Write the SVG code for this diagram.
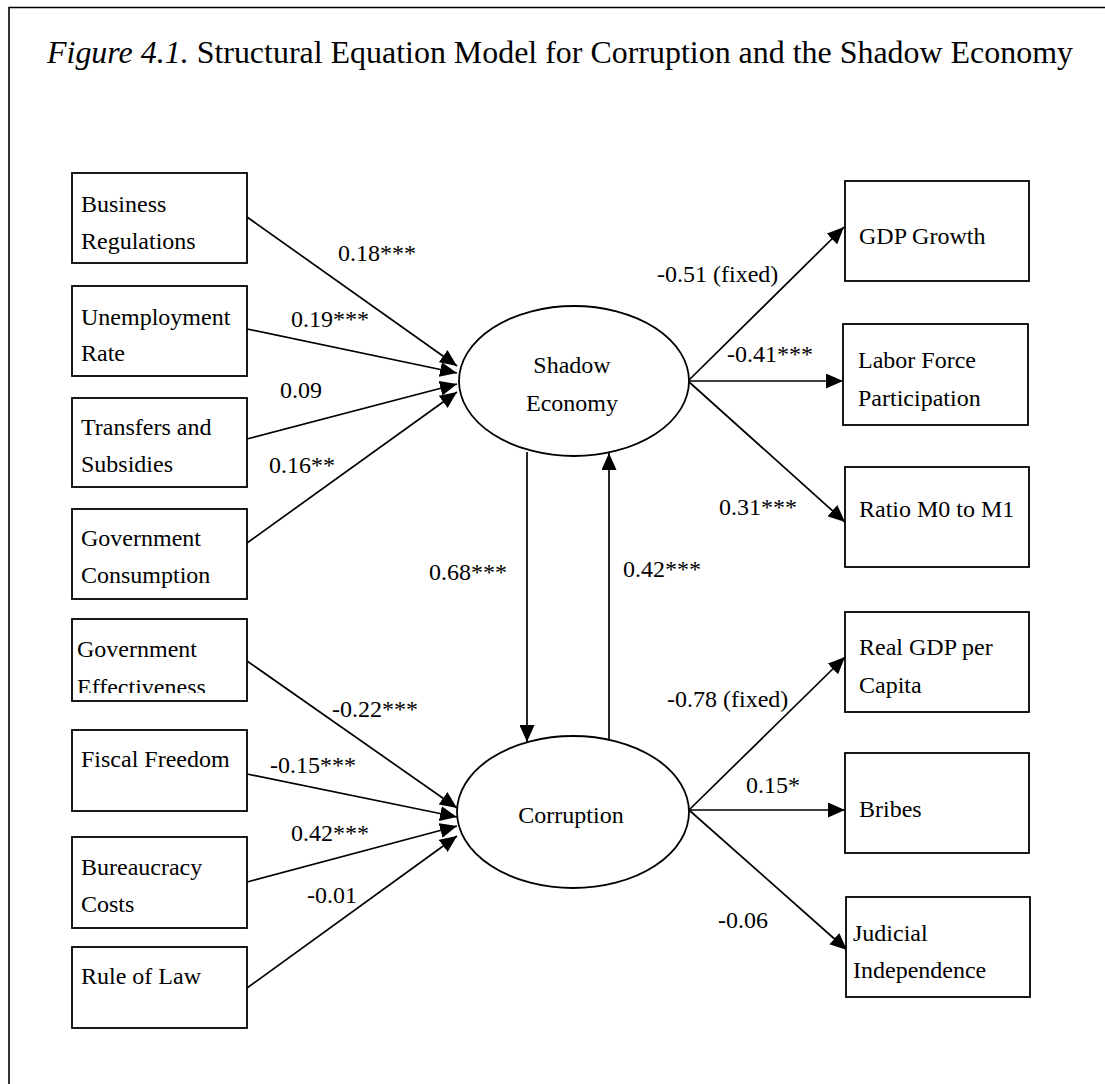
<svg xmlns="http://www.w3.org/2000/svg" width="1105" height="1084" viewBox="0 0 1105 1084">
<style>
text { font-family: "Liberation Serif", "Times New Roman", serif; font-size: 24px; fill: #000; }
.title { font-size: 31px; }
.box { fill: #fff; stroke: #000; stroke-width: 1.8; }
.ell { fill: #fff; stroke: #000; stroke-width: 1.8; }
.edge { fill: none; stroke: #000; stroke-width: 1.7; marker-end: url(#arr); }
.frame { fill: none; stroke: #000; stroke-width: 1.6; }
.mid { text-anchor: middle; }
</style>
<defs>
<marker id="arr" markerUnits="userSpaceOnUse" markerWidth="17" markerHeight="15" refX="17" refY="7.5" orient="auto">
<path d="M0,0 L17,7.5 L0,15 Z" fill="#000"/>
</marker>
<clipPath id="clipEff"><rect x="72" y="619" width="175" height="74"/></clipPath>
</defs>
<rect x="0" y="0" width="1105" height="1084" fill="#fff"/>
<path class="frame" d="M9,1084 L9,7.5 L1105,7.5"/>
<text class="title" x="47" y="63" textLength="1026" lengthAdjust="spacingAndGlyphs"><tspan font-style="italic">Figure 4.1.</tspan> Structural Equation Model for Corruption and the Shadow Economy</text>

<g id="connectors">
<line class="edge" x1="247" y1="217" x2="457" y2="366"/>
<line class="edge" x1="247" y1="329" x2="457" y2="373"/>
<line class="edge" x1="247" y1="439" x2="457" y2="384"/>
<line class="edge" x1="247" y1="543" x2="457" y2="392"/>
<line class="edge" x1="247" y1="661" x2="457" y2="808"/>
<line class="edge" x1="247" y1="774" x2="457" y2="817"/>
<line class="edge" x1="247" y1="882" x2="457" y2="826"/>
<line class="edge" x1="247" y1="988" x2="457" y2="836"/>
<line class="edge" x1="527" y1="452" x2="527" y2="742"/>
<line class="edge" x1="609" y1="739" x2="609" y2="453"/>
<line class="edge" x1="688" y1="381" x2="844" y2="227"/>
<line class="edge" x1="688" y1="381" x2="843" y2="381"/>
<line class="edge" x1="688" y1="381" x2="845" y2="522"/>
<line class="edge" x1="689" y1="810" x2="845" y2="657"/>
<line class="edge" x1="689" y1="810" x2="845" y2="810"/>
<line class="edge" x1="689" y1="810" x2="847" y2="950"/>
<text x="338" y="261">0.18***</text>
<text x="291" y="327">0.19***</text>
<text x="280" y="398">0.09</text>
<text x="269" y="473">0.16**</text>
<text x="429" y="580">0.68***</text>
<text x="623" y="577">0.42***</text>
<text x="657" y="282">-0.51 (fixed)</text>
<text x="727" y="362">-0.41***</text>
<text x="719" y="515">0.31***</text>
<text x="332" y="717">-0.22***</text>
<text x="270" y="773">-0.15***</text>
<text x="291" y="841">0.42***</text>
<text x="307" y="903">-0.01</text>
<text x="667" y="707">-0.78 (fixed)</text>
<text x="746" y="793">0.15*</text>
<text x="718" y="928">-0.06</text>
</g>

<g id="n-business"><rect class="box" x="72" y="173" width="175" height="90"/><text x="81" y="212">Business</text><text x="81" y="249">Regulations</text></g>
<g id="n-unemployment"><rect class="box" x="72" y="286" width="175" height="90"/><text x="81" y="325">Unemployment</text><text x="81" y="361">Rate</text></g>
<g id="n-transfers"><rect class="box" x="72" y="398" width="175" height="89"/><text x="81" y="435">Transfers and</text><text x="81" y="472">Subsidies</text></g>
<g id="n-govcons"><rect class="box" x="72" y="509" width="175" height="90"/><text x="81" y="546">Government</text><text x="81" y="583">Consumption</text></g>
<g id="n-goveff"><rect class="box" x="72" y="619" width="175" height="82"/><g clip-path="url(#clipEff)"><text x="77" y="657">Government</text><text x="77" y="695">Effectiveness</text></g></g>
<g id="n-fiscal"><rect class="box" x="72" y="730" width="175" height="81"/><text x="81" y="767">Fiscal Freedom</text></g>
<g id="n-bureau"><rect class="box" x="72" y="837" width="175" height="91"/><text x="81" y="875">Bureaucracy</text><text x="81" y="912">Costs</text></g>
<g id="n-law"><rect class="box" x="72" y="947" width="175" height="81"/><text x="81" y="984">Rule of Law</text></g>

<g id="n-shadow"><ellipse class="ell" cx="574" cy="381" rx="115" ry="75"/><text class="mid" x="572" y="373">Shadow</text><text class="mid" x="572" y="411">Economy</text></g>
<g id="n-corruption"><ellipse class="ell" cx="573" cy="812" rx="116" ry="76"/><text class="mid" x="571" y="823">Corruption</text></g>

<g id="n-gdpgrowth"><rect class="box" x="845" y="181" width="184" height="100"/><text x="859" y="244">GDP Growth</text></g>
<g id="n-labor"><rect class="box" x="843" y="324" width="185" height="101"/><text x="858" y="368">Labor Force</text><text x="858" y="406">Participation</text></g>
<g id="n-ratio"><rect class="box" x="845" y="467" width="184" height="100"/><text x="859" y="517">Ratio M0 to M1</text></g>
<g id="n-realgdp"><rect class="box" x="845" y="612" width="184" height="100"/><text x="859" y="655">Real GDP per</text><text x="859" y="693">Capita</text></g>
<g id="n-bribes"><rect class="box" x="845" y="753" width="184" height="100"/><text x="859" y="817">Bribes</text></g>
<g id="n-judicial"><rect class="box" x="846" y="897" width="184" height="100"/><text x="853" y="941">Judicial</text><text x="853" y="978">Independence</text></g>
</svg>
